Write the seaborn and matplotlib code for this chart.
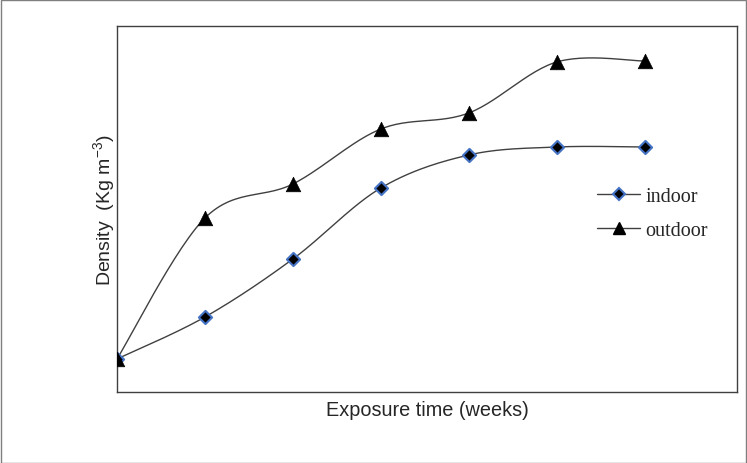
import numpy as np
import pandas as pd
import matplotlib
matplotlib.use("Agg")
import matplotlib.pyplot as plt
import seaborn as sns
from matplotlib.lines import Line2D
from matplotlib.patches import Rectangle

# exposure time in weeks, density in arbitrary units (no tick labels on the original)
weeks = [0, 1, 2, 3, 4, 5, 6]
indoor = [33, 75, 133, 204, 237, 245, 245]
outdoor = [33, 174, 208, 263, 279, 330, 331]

df = pd.DataFrame({"weeks": weeks * 2,
                   "density": indoor + outdoor,
                   "site": ["indoor"] * 7 + ["outdoor"] * 7})


def smooth(x, y, n=30):
    # Catmull-Rom style smoothing, like a spreadsheet "smoothed line"
    x = np.asarray(x, float)
    y = np.asarray(y, float)
    px = np.concatenate([[x[0]], x, [x[-1]]])
    py = np.concatenate([[y[0]], y, [y[-1]]])
    xs, ys = [], []
    t = np.linspace(0, 1, n)
    for i in range(1, len(px) - 2):
        p0, p1, p2, p3 = [np.array([px[j], py[j]]) for j in (i - 1, i, i + 1, i + 2)]
        c1 = p1 + (p2 - p0) / 6
        c2 = p2 - (p3 - p1) / 6
        pts = ((1 - t) ** 3)[:, None] * p1 + (3 * (1 - t) ** 2 * t)[:, None] * c1 \
            + (3 * (1 - t) * t ** 2)[:, None] * c2 + (t ** 3)[:, None] * p2
        xs.extend(pts[:, 0])
        ys.extend(pts[:, 1])
    return np.array(xs), np.array(ys)


sns.set_style("white")
fig = plt.figure(figsize=(7.47, 4.64), dpi=100)
ax = fig.add_axes([117 / 747, 71 / 464, 620 / 747, 366 / 464])

line_col = "#404040"
for site in ["indoor", "outdoor"]:
    sub = df[df.site == site]
    sx, sy = smooth(sub.weeks, sub.density)
    ax.plot(sx, sy, color=line_col, lw=1.0, zorder=2)

sns.scatterplot(data=df[df.site == "indoor"], x="weeks", y="density", ax=ax,
                marker="D", s=45, color="black", edgecolor="#4472C4",
                linewidth=1.5, zorder=3, legend=False)
sns.scatterplot(data=df[df.site == "outdoor"], x="weeks", y="density", ax=ax,
                marker="^", s=110, color="black", edgecolor="black",
                linewidth=0.5, zorder=4, legend=False)

ax.set_xlim(0, 7.05)
ax.set_ylim(0, 366)
ax.set_xticks([])
ax.set_yticks([])
for sp in ax.spines.values():
    sp.set_color("#404040")
    sp.set_linewidth(1.0)

ax.set_xlabel("Exposure time (weeks)", family="Liberation Sans", fontsize=14.3, labelpad=6)
ax.set_ylabel(r"Density  (Kg m$^{\mathregular{-3}}$)",
              family="Liberation Sans", fontsize=14, labelpad=-1)

handles = [
    Line2D([], [], color=line_col, lw=1, marker="D", markersize=6,
           markerfacecolor="black", markeredgecolor="#4472C4", markeredgewidth=1.5),
    Line2D([], [], color=line_col, lw=1, marker="^", markersize=9,
           markerfacecolor="black", markeredgecolor="black"),
]
ax.legend(handles, ["indoor", "outdoor"], loc="upper left",
          bbox_to_anchor=(0.745, 0.61), frameon=False, handlelength=2.15,
          handletextpad=0.25, labelspacing=0.75,
          prop={"family": "Liberation Serif", "size": 14.5})

fig.add_artist(Rectangle((0.5 / 747, 0.5 / 464), 1 - 1.5 / 747, 1 - 1.5 / 464,
                         transform=fig.transFigure, fill=False,
                         edgecolor="#7f7f7f", lw=1.0))

fig.savefig("out.png", dpi=100)
